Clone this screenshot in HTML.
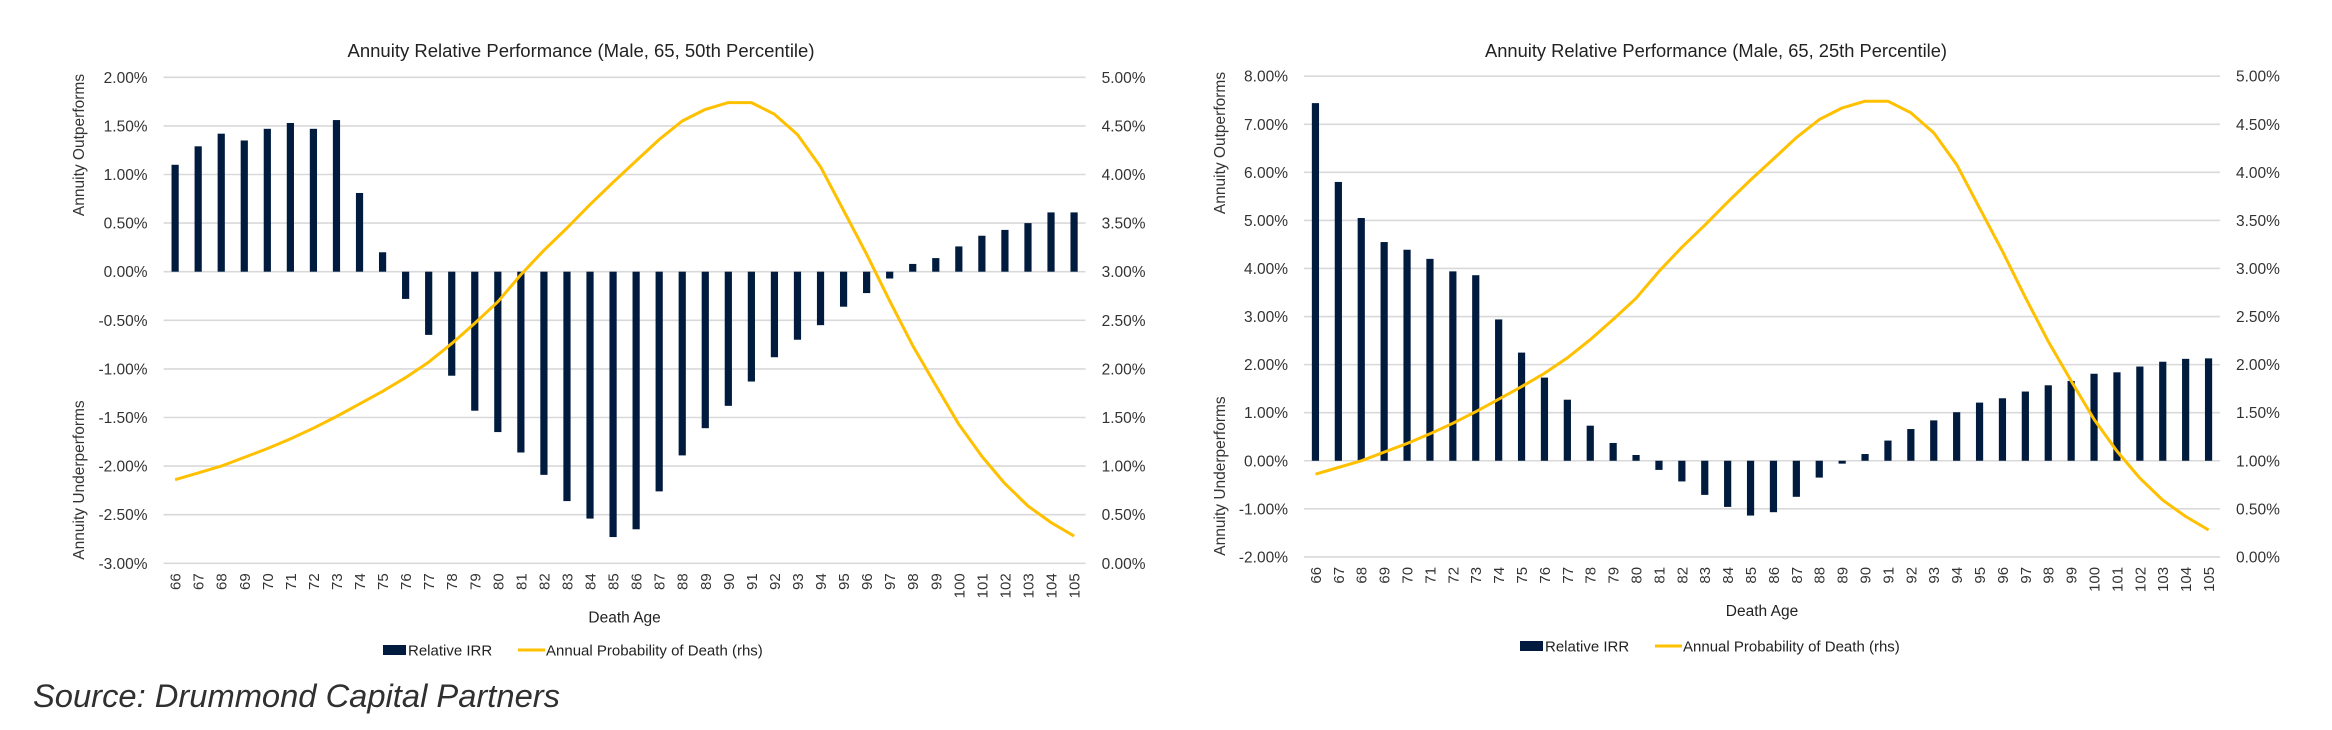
<!DOCTYPE html>
<html><head><meta charset="utf-8"><style>
html,body{margin:0;padding:0;background:#fff;}
svg{display:block;font-family:"Liberation Sans",sans-serif;}
</style></head><body>
<svg id="root" width="2332" height="730" viewBox="0 0 2332 730">
<rect x="0" y="0" width="2332" height="730" fill="#fff"/>
<text x="33" y="707" font-size="32" font-style="italic" fill="#303030" textLength="527" lengthAdjust="spacingAndGlyphs">Source: Drummond Capital Partners</text>
</svg>
<script>
const ages = [66,67,68,69,70,71,72,73,74,75,76,77,78,79,80,81,82,83,84,85,86,87,88,89,90,91,92,93,94,95,96,97,98,99,100,101,102,103,104,105];
const irr50 = [1.10,1.29,1.42,1.35,1.47,1.53,1.47,1.56,0.81,0.20,-0.28,-0.65,-1.07,-1.43,-1.65,-1.86,-2.09,-2.36,-2.54,-2.73,-2.65,-2.26,-1.89,-1.61,-1.38,-1.13,-0.88,-0.70,-0.55,-0.36,-0.22,-0.07,0.08,0.14,0.26,0.37,0.43,0.50,0.61,0.61];
const irr25 = [7.44,5.80,5.05,4.55,4.39,4.20,3.94,3.86,2.94,2.25,1.73,1.27,0.73,0.37,0.12,-0.19,-0.43,-0.71,-0.96,-1.14,-1.07,-0.75,-0.35,-0.06,0.14,0.42,0.66,0.84,1.01,1.21,1.30,1.44,1.57,1.66,1.81,1.84,1.96,2.06,2.12,2.13];
const deathProb = [0.86,0.93,1.00,1.09,1.18,1.28,1.39,1.51,1.64,1.77,1.91,2.07,2.26,2.47,2.69,2.97,3.22,3.45,3.69,3.92,4.14,4.36,4.55,4.67,4.74,4.74,4.62,4.41,4.08,3.63,3.18,2.70,2.24,1.83,1.43,1.10,0.82,0.59,0.42,0.28];
const leftTicks50 = [2.0,1.5,1.0,0.5,0.0,-0.5,-1.0,-1.5,-2.0,-2.5,-3.0];
const leftTicks25 = [8,7,6,5,4,3,2,1,0,-1,-2];
const rhsTicks = [5.0,4.5,4.0,3.5,3.0,2.5,2.0,1.5,1.0,0.5,0.0];

const NS = "http://www.w3.org/2000/svg";
const root = document.getElementById('root');
function mk(tag, attrs, parent, txt){
  const e = document.createElementNS(NS, tag);
  for (const k in attrs) e.setAttribute(k, attrs[k]);
  if (txt !== undefined) e.textContent = txt;
  parent.appendChild(e);
  return e;
}

function drawChart(cfg){
  const g = mk('g', {}, root);
  
  
  const lmax = cfg.lTicks[0], lmin = cfg.lTicks[cfg.lTicks.length-1];
  const rmax = rhsTicks[0], rmin = rhsTicks[rhsTicks.length-1];
  const yL = v => cfg.top + (lmax - v) / (lmax - lmin) * (cfg.bottom - cfg.top);
  const yR = v => cfg.top + (rmax - v) / (rmax - rmin) * (cfg.bottom - cfg.top);
  const step = (cfg.right - cfg.left) / ages.length;
  const xC = i => cfg.left + step * (i + 0.5);

  const t = mk('text', {x: cfg.titleX, y: cfg.titleY, 'font-size': 18, 'text-anchor': 'middle', fill: '#222', textLength: cfg.titleW, lengthAdjust: 'spacingAndGlyphs'}, g, cfg.title);
  
  

  cfg.lTicks.forEach((v, i) => {
    const y = yL(v);
    const gl = mk('line', {x1: cfg.left, x2: cfg.right, y1: y, y2: y, stroke: '#d9d9d9', 'stroke-width': 1.6}, g);
    
    
    const lt = mk('text', {x: cfg.left - 16, y: y + 5.5, 'font-size': 15.5, 'text-anchor': 'end', fill: '#333'}, g, v.toFixed(2) + '%');
    
    
    const rv = rhsTicks[i];
    const rt = mk('text', {x: cfg.right + 16, y: yR(rv) + 5.5, 'font-size': 15.5, fill: '#333'}, g, rv.toFixed(2) + '%');
    
    
  });

  const bw = 7.2;
  cfg.bars.forEach((v, i) => {
    const y0 = yL(0), y1 = yL(v);
    const b = mk('rect', {x: xC(i) - bw/2, y: Math.min(y0, y1), width: bw, height: Math.max(0.8, Math.abs(y1 - y0)), fill: '#001b3d'}, g);
    
    
  });

  const pts = deathProb.map((v, i) => xC(i).toFixed(1) + ',' + yR(v).toFixed(1)).join(' ');
  const ln = mk('polyline', {points: pts, fill: 'none', stroke: '#ffc000', 'stroke-width': 3, 'stroke-linejoin': 'round'}, g);
  
  

  ages.forEach((a, i) => {
    const x = xC(i) + 5.5, y = cfg.bottom + 10;
    const xt = mk('text', {x: x, y: y, 'font-size': 15, 'text-anchor': 'end', fill: '#333', transform: 'rotate(-90 ' + x + ' ' + y + ')'}, g, String(a));
    
    
  });

  const xa = mk('text', {x: (cfg.left + cfg.right) / 2, y: cfg.bottom + 59, 'font-size': 15.5, 'text-anchor': 'middle', fill: '#222'}, g, 'Death Age');
  
  

  const o1 = mk('text', {x: cfg.yTitleX, y: cfg.outY, 'font-size': 15.5, 'text-anchor': 'middle', fill: '#333', transform: 'rotate(-90 ' + cfg.yTitleX + ' ' + cfg.outY + ')'}, g, 'Annuity Outperforms');
  
  
  const o2 = mk('text', {x: cfg.yTitleX, y: cfg.underY, 'font-size': 15.5, 'text-anchor': 'middle', fill: '#333', transform: 'rotate(-90 ' + cfg.yTitleX + ' ' + cfg.underY + ')'}, g, 'Annuity Underperforms');
  
  

  const lx = cfg.legendX, ly = cfg.legendY;
  const lg = mk('g', {}, g);
  
  
  const sw = mk('rect', {x: lx, y: ly - 5, width: 23, height: 10, fill: '#001b3d'}, lg);
  
  
  const l1 = mk('text', {x: lx + 25, y: ly + 5.5, 'font-size': 15, fill: '#222'}, lg, 'Relative IRR');
  
  
  const sl = mk('line', {x1: lx + 135, x2: lx + 162, y1: ly, y2: ly, stroke: '#ffc000', 'stroke-width': 3}, lg);
  
  
  const l2 = mk('text', {x: lx + 163, y: ly + 5.5, 'font-size': 15, fill: '#222'}, lg, 'Annual Probability of Death (rhs)');
  
  
}

drawChart({name: 'chart-50th-percentile', title: 'Annuity Relative Performance (Male, 65, 50th Percentile)', titleX: 581, titleY: 57, titleW: 467,
  left: 163.6, right: 1085.6, top: 77.3, bottom: 563.3, lTicks: leftTicks50, bars: irr50,
  yTitleX: 84, outY: 145, underY: 480, legendX: 383, legendY: 650});
drawChart({name: 'chart-25th-percentile', title: 'Annuity Relative Performance (Male, 65, 25th Percentile)', titleX: 1716, titleY: 57, titleW: 462,
  left: 1304, right: 2220, top: 76.2, bottom: 556.9, lTicks: leftTicks25, bars: irr25,
  yTitleX: 1225, outY: 143, underY: 476, legendX: 1520, legendY: 646});
</script>
</body></html>
